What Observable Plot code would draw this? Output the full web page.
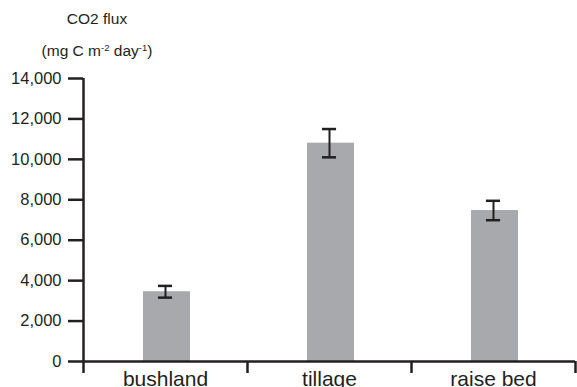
<!DOCTYPE html>
<html>
<head>
<meta charset="utf-8">
<script src="https://cdn.jsdelivr.net/npm/d3@7"></script>
<script src="https://cdn.jsdelivr.net/npm/@observablehq/plot@0.6"></script>
<style>
  html, body { margin: 0; padding: 0; background: #fff; }
  #wrap { width: 577px; height: 387px; overflow: hidden; font-family: "Liberation Sans", Arial, sans-serif; color: #231f20; }
  #ytitle { position: relative; height: 70px; width: 194px; text-align: center; font-size: 15.5px; }
  #ytitle .l1 { position: absolute; left: 0; right: 0; top: 10px; }
  #ytitle .l2 { position: absolute; left: 0; right: 0; top: 42px; }
  #ytitle sup { font-size: 9.5px; vertical-align: 5px; line-height: 0; }
  svg { display: block; }
  /* heavier tick strokes on both axes */
  g[aria-label="y-axis tick"], g[aria-label="x-axis tick"],
  g[aria-label="y-axis tick"] path, g[aria-label="x-axis tick"] path { stroke-width: 2.5px; }
</style>
</head>
<body>
<div id="wrap">
  <div id="ytitle">
    <div class="l1">CO2 flux</div>
    <div class="l2">(mg C m<sup>-2</sup> day<sup>-1</sup>)</div>
  </div>
  <div id="chart"></div>
</div>
<script>
// Soil CO2 flux by land use, mean ± error
const categories = ["bushland", "tillage", "raise bed"];
const flux = [3450, 10800, 7470];
const fluxError = [290, 700, 480];
const yTicks = [0, 2000, 4000, 6000, 8000, 10000, 12000, 14000];

const ink = "#231f20";
const barFill = "#a7a9ac";

const data = categories.map((c, i) => ({i, c, v: flux[i], e: fluxError[i]}));
const capHalf = 0.043; // half width of error-bar caps, in category units

const chart = Plot.plot({
  width: 577,
  height: 317,
  marginTop: 8,
  marginBottom: 26,
  marginLeft: 83,
  marginRight: 2,
  style: {fontFamily: "'Liberation Sans', Arial, sans-serif", color: ink, background: "#fff", overflow: "visible"},
  x: {domain: [0, categories.length]},
  y: {domain: [0, 14000]},
  marks: [
    Plot.rectY(data, {x1: d => d.i, x2: d => d.i + 1, y: "v", fill: barFill, insetLeft: 60, insetRight: 57}),
    // y axis
    Plot.axisY({ticks: yTicks, tickFormat: d3.format(","), label: null, tickSize: 15, tickPadding: 7, fontSize: 16.5, stroke: ink, strokeWidth: 2.5, fill: ink}),
    Plot.ruleX([0], {y1: 0, y2: 14000, stroke: ink, strokeWidth: 2.5}),
    Plot.ruleY([0], {stroke: ink, strokeWidth: 2.5}),
    // category separators
    Plot.axisX({ticks: d3.range(categories.length + 1), tickFormat: () => "", label: null, tickSize: 12, stroke: ink, strokeWidth: 2.5}),
    // category labels
    Plot.axisX({ticks: categories.map((c, i) => i + 0.5), tickFormat: t => categories[Math.floor(t)], label: null, tickSize: 0, tickPadding: 10, fontSize: 21, fill: ink}),
    // error bars
    Plot.ruleX(data, {x: d => d.i + 0.5, y1: d => d.v - d.e, y2: d => d.v + d.e, stroke: ink, strokeWidth: 2}),
    Plot.ruleY(data, {x1: d => d.i + 0.5 - capHalf, x2: d => d.i + 0.5 + capHalf, y: d => d.v + d.e, stroke: ink, strokeWidth: 2.5}),
    Plot.ruleY(data, {x1: d => d.i + 0.5 - capHalf, x2: d => d.i + 0.5 + capHalf, y: d => d.v - d.e, stroke: ink, strokeWidth: 2.5})
  ]
});
document.getElementById("chart").appendChild(chart);
</script>
</body>
</html>
